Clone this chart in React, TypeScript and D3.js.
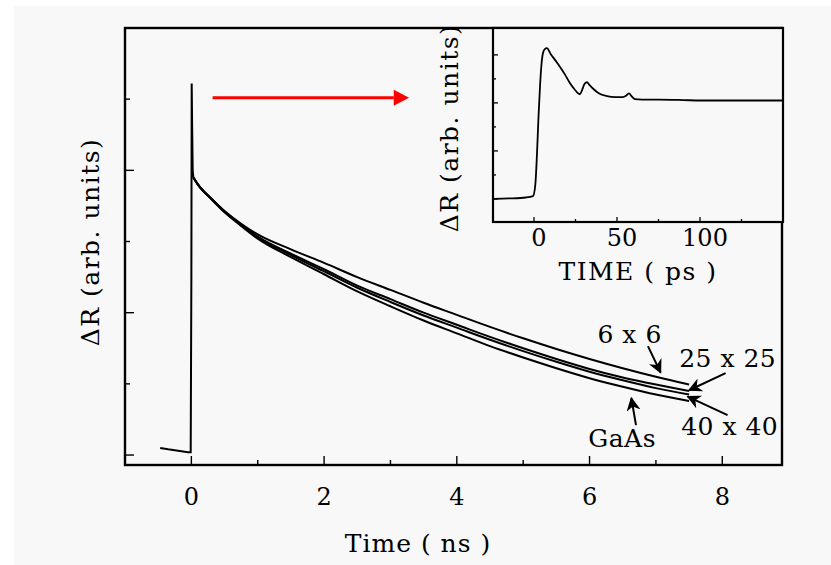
import * as d3 from 'd3';

// main panel: shared pre-pulse baseline + spike (time in ns, ΔR in arb. units)
const spikeT = [-0.47, -0.35, -0.2, -0.05, -0.01, 0.0, 0.005, 0.012, 0.02, 0.03];
const spikeR = [0.1, 0.08, 0.06, 0.04, 0.04, 2.5, 5.22, 4.6, 4.0, 3.9];

// decay traces after the spike
const decayT = [0.03, 0.1, 0.3, 0.5, 0.75, 1.0, 1.5, 2.0, 2.5, 3.0, 3.5, 4.0, 4.5, 5.0, 5.5, 6.0, 6.5, 7.0, 7.5];
const r6x6 = [3.9, 3.8, 3.6, 3.43, 3.25, 3.1, 2.89, 2.7, 2.5, 2.32, 2.14, 1.97, 1.8, 1.64, 1.49, 1.35, 1.22, 1.1, 0.99];
const r25x25 = [3.9, 3.8, 3.6, 3.42, 3.24, 3.07, 2.83, 2.61, 2.38, 2.19, 2.0, 1.83, 1.66, 1.5, 1.35, 1.21, 1.09, 0.99, 0.9];
const r40x40 = [3.9, 3.8, 3.6, 3.42, 3.23, 3.06, 2.81, 2.58, 2.35, 2.15, 1.96, 1.79, 1.62, 1.46, 1.31, 1.17, 1.05, 0.94, 0.85];
const rGaAs = [3.9, 3.8, 3.6, 3.41, 3.22, 3.04, 2.78, 2.54, 2.3, 2.09, 1.89, 1.71, 1.53, 1.37, 1.22, 1.08, 0.96, 0.85, 0.76];

const mainXTicks = [0, 2, 4, 6, 8];
const mainXMinor = [-1, 1, 3, 5, 7];
const mainYTicks = [0, 2, 4];
const mainYMinor = [1, 3, 5];

// inset: time in ps
const insetT = [-24.7, -15, -5, -0.6, 0.8, 1.8, 2.7, 3.6, 4.5, 5.4, 6.5, 7.8, 10, 13, 15.7, 18.5, 21.7, 24.5, 26.5, 27.7, 29, 30.5, 31.9, 33.5, 35.5, 39, 44, 49, 53.6, 55.5, 57.2, 59, 60.8, 65, 75, 90, 100, 115, 130, 150];
const insetR = [0.0, 0.01, 0.03, 0.06, 0.3, 0.94, 1.7, 2.33, 2.8, 3.04, 3.12, 3.14, 3.02, 2.88, 2.75, 2.6, 2.41, 2.28, 2.2, 2.18, 2.27, 2.4, 2.43, 2.37, 2.3, 2.2, 2.14, 2.12, 2.12, 2.15, 2.2, 2.13, 2.08, 2.07, 2.07, 2.06, 2.05, 2.05, 2.05, 2.05];
const insetXTicks = [0, 50, 100];
const insetXMinor = [25, 75, 125];
const insetYTicks = [0, 1, 2, 3];
const insetYMinor = [0.5, 1.5, 2.5];

const labels = [
  { text: '6 x 6', t: 6.12, r: 1.57 },
  { text: '25 x 25', t: 7.35, r: 1.24 },
  { text: '40 x 40', t: 7.38, r: 0.28 },
  { text: 'GaAs', t: 5.98, r: 0.11 },
];
const arrows = [
  { t0: 6.88, r0: 1.53, t1: 7.07, r1: 1.16 },
  { t0: 8.05, r0: 1.15, t1: 7.5, r1: 0.91 },
  { t0: 8.08, r0: 0.56, t1: 7.48, r1: 0.82 },
  { t0: 6.7, r0: 0.42, t1: 6.63, r1: 0.8 },
];

const W = 831;
const H = 565;
const serif = "'DejaVu Serif', 'Liberation Serif', serif";

export default function App() {
  const x = d3.scaleLinear().domain([-1.0, 8.9]).range([125, 782]);
  const y = d3.scaleLinear().domain([-0.14, 6.0]).range([465, 28]);
  const ix = d3.scaleLinear().domain([-24.7, 150]).range([493, 783]);
  const iy = d3.scaleLinear().domain([-0.48, 3.56]).range([222, 28]);

  const line = d3.line<[number, number]>().x(d => x(d[0])).y(d => y(d[1]));
  const iline = d3.line<[number, number]>().x(d => ix(d[0])).y(d => iy(d[1])).curve(d3.curveMonotoneX);
  const smooth = d3.line<[number, number]>().x(d => x(d[0])).y(d => y(d[1])).curve(d3.curveMonotoneX);

  const spike = spikeT.map((t, i) => [t, spikeR[i]] as [number, number]);
  const series = [r6x6, r25x25, r40x40, rGaAs].map(s => decayT.map((t, i) => [t, s[i]] as [number, number]));
  const inset = insetT.map((t, i) => [t, insetR[i]] as [number, number]);

  const [x0, x1] = x.range();
  const [y0, y1] = y.range();
  const [ix0, ix1] = ix.range();
  const [iy0, iy1] = iy.range();

  return (
    <div style={{ position: 'absolute', left: 0, top: 0 }}>
      <svg width={W} height={H} style={{ display: 'block' }}>
        <defs>
          <marker id="blk" viewBox="0 0 10 10" refX="9" refY="5" markerWidth="7" markerHeight="7" orient="auto">
            <path d="M0,0 L10,5 L0,10 L3,5 Z" fill="#000" />
          </marker>
        </defs>
        <rect x={0} y={0} width={W} height={H} fill="#fff" />
        <rect x={14} y={6} width={W - 14} height={H - 6} fill="#f8f8f8" />

        {/* main frame */}
        <rect x={x0} y={y1} width={x1 - x0} height={y0 - y1} fill="none" stroke="#000" strokeWidth={2.4} />
        {mainXTicks.map(t => (
          <line key={'xt' + t} x1={x(t)} x2={x(t)} y1={y0} y2={y0 - 9} stroke="#000" strokeWidth={1.4} />
        ))}
        {mainXMinor.map(t => (
          <line key={'xm' + t} x1={x(t)} x2={x(t)} y1={y0} y2={y0 - 5} stroke="#000" strokeWidth={1.4} />
        ))}
        {mainYTicks.map(t => (
          <line key={'yt' + t} x1={x0} x2={x0 + 9} y1={y(t)} y2={y(t)} stroke="#000" strokeWidth={1.4} />
        ))}
        {mainYMinor.map(t => (
          <line key={'ym' + t} x1={x0} x2={x0 + 5} y1={y(t)} y2={y(t)} stroke="#000" strokeWidth={1.4} />
        ))}
        {mainXTicks.map(t => (
          <text key={'xl' + t} x={x(t)} y={505} textAnchor="middle" fontFamily={serif} fontSize={24}>{t}</text>
        ))}
        <text x={418} y={552} textAnchor="middle" fontFamily={serif} fontSize={25} letterSpacing={1}>Time ( ns )</text>
        <text transform={`translate(99,242) rotate(-90)`} textAnchor="middle" fontFamily={serif} fontSize={25} letterSpacing={1.5}>ΔR (arb. units)</text>

        {/* traces */}
        <path d={line(spike) || ''} fill="none" stroke="#000" strokeWidth={2} />
        {series.map((s, i) => (
          <path key={'s' + i} d={smooth(s) || ''} fill="none" stroke="#000" strokeWidth={2} />
        ))}

        {/* annotations */}
        {labels.map(l => (
          <text key={l.text} x={x(l.t)} y={y(l.r)} fontFamily={serif} fontSize={25} letterSpacing={0.5}>{l.text}</text>
        ))}
        {arrows.map((a, i) => (
          <line key={'a' + i} x1={x(a.t0)} y1={y(a.r0)} x2={x(a.t1)} y2={y(a.r1)} stroke="#000" strokeWidth={2} markerEnd="url(#blk)" />
        ))}

        {/* red arrow to inset */}
        <line x1={x(0.32)} x2={x(3.05)} y1={y(5.02)} y2={y(5.02)} stroke="#f00" strokeWidth={3} />
        <path d={`M${x(3.05)},${y(5.02) - 8} L${x(3.28)},${y(5.02)} L${x(3.05)},${y(5.02) + 8} Z`} fill="#f00" />

        {/* inset */}
        <rect x={ix0} y={iy1} width={ix1 - ix0} height={iy0 - iy1} fill="#f8f8f8" stroke="#000" strokeWidth={2.2} />
        {insetXTicks.map(t => (
          <line key={'ixt' + t} x1={ix(t)} x2={ix(t)} y1={iy0} y2={iy0 - 5} stroke="#000" strokeWidth={1.3} />
        ))}
        {insetXMinor.map(t => (
          <line key={'ixm' + t} x1={ix(t)} x2={ix(t)} y1={iy0} y2={iy0 - 3} stroke="#000" strokeWidth={1.3} />
        ))}
        {insetYTicks.map(t => (
          <line key={'iyt' + t} x1={ix0} x2={ix0 + 5} y1={iy(t)} y2={iy(t)} stroke="#000" strokeWidth={1.3} />
        ))}
        {insetYMinor.map(t => (
          <line key={'iym' + t} x1={ix0} x2={ix0 + 3} y1={iy(t)} y2={iy(t)} stroke="#000" strokeWidth={1.3} />
        ))}
        {insetXTicks.map(t => (
          <text key={'ixl' + t} x={ix(t) + 5} y={246} textAnchor="middle" fontFamily={serif} fontSize={24}>{t}</text>
        ))}
        <text x={638} y={280} textAnchor="middle" fontFamily={serif} fontSize={25} letterSpacing={1.5}>TIME ( ps )</text>
        <text transform={`translate(458,128) rotate(-90)`} textAnchor="middle" fontFamily={serif} fontSize={25} letterSpacing={1.5}>ΔR (arb. units)</text>
        <path d={iline(inset) || ''} fill="none" stroke="#000" strokeWidth={1.8} />
      </svg>
    </div>
  );
}
